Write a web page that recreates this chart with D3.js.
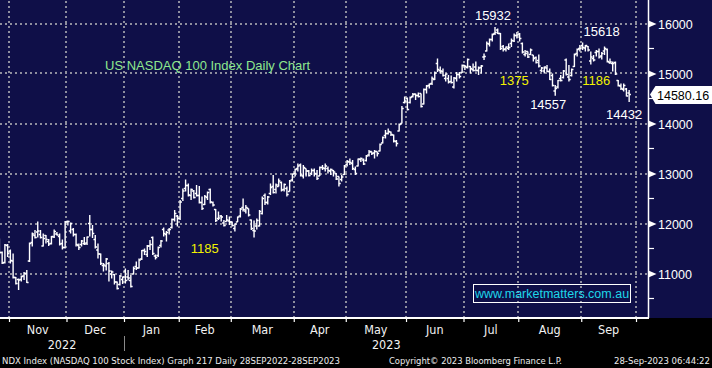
<!DOCTYPE html>
<html>
<head>
<meta charset="utf-8">
<script src="https://cdn.jsdelivr.net/npm/d3@7"></script>
<style>
html,body{margin:0;padding:0;background:#000;overflow:hidden}
svg{display:block}
</style>
</head>
<body>
<svg id="chart" width="712" height="368"></svg>
<script>
// ---------- DATA ----------
const firstDay = "2022-10-26";
const lastCalendarDay = "2023-10-02";
const holidays = ["2022-11-24","2022-12-26","2023-01-02","2023-01-16","2023-02-20",
  "2023-04-07","2023-05-29","2023-06-19","2023-07-04","2023-09-04"];
const monthLabels = ["Nov","Dec","Jan","Feb","Mar","Apr","May","Jun","Jul","Aug","Sep"];
const yearLabels = ["2022","2023"];
const yTicks = [11000,12000,13000,14000,15000,16000];
const yMinorTicks = [10500,11500,12500,13500,14500,15500];

const opens = [
 11560,11420,11220,11560,
 11450,11250,10920,10880,10880,10950,11000,11250,11620,11760,11830,11780,11550,11760,11640,11600,11730,11790,11740,11600,11520,
 12040,11850,11880,11780,11560,11580,11600,11610,12000,11880,11680,11470,11390,11160,11150,11200,10990,10980,10830,10780,10880,
 11050,10930,10860,10990,11140,11110,11290,11460,11380,11550,11720,11350,11360,11560,11880,11780,11870,11920,12080,12150,
 12100,12500,12700,12760,12560,12650,12600,12560,12420,12380,12520,12680,12420,12280,12100,12150,12010,12040,12050,
 12030,11900,12030,12150,12320,12250,12300,12070,11860,11950,11950,12200,12560,12420,12600,12740,12680,12740,12820,12680,12700,12640,12870,
 13000,13100,13170,12950,13100,13050,13000,13060,12990,12950,13120,13100,13100,13050,13060,13000,12940,12880,12980,
 13180,13230,13200,13080,13150,13280,13270,13260,13370,13440,13410,13440,13450,13610,13760,13800,13830,13770,13640,13850,14000,14420,
 14500,14420,14540,14590,14560,14600,14390,14680,14760,14800,14880,15200,15060,15040,14900,14900,14840,14730,14900,14980,15020,
 15160,15120,15140,15080,15130,15060,15120,15330,15450,15590,15680,15800,15870,15800,15540,15490,15500,15600,15650,15760,
 15790,15600,15380,15440,15380,15370,15320,15260,15060,15050,15110,15040,14960,14650,14730,14900,14920,15270,14930,14960,15140,15400,15500,
 15560,15510,15540,15250,15300,15420,15440,15350,15450,15480,15220,15200,15220,14860,14750,14680,14690,14610
];
const highs = [
 11700,11440,11590,11590,
 11480,11400,10930,10900,10960,11030,11070,11620,11820,11870,12040,11870,11800,11770,11690,11750,11880,11830,11800,11680,12050,
 12060,12020,11910,11800,11600,11670,11730,11740,12170,11970,11770,11600,11400,11210,11310,11230,11060,10990,10840,10970,10940,
 11100,11070,10970,11140,11240,11300,11470,11500,11570,11670,11740,11380,11540,11670,11920,11850,11910,12100,12270,12170,
 12470,12700,12880,12800,12700,12670,12770,12750,12540,12570,12640,12700,12440,12290,12240,12170,12070,12170,12140,
 12040,12000,12140,12310,12500,12370,12300,12080,12060,12100,12270,12540,12600,12550,12800,12970,12800,12900,12840,12800,12740,12870,13000,
 13100,13200,13200,13170,13100,13070,13100,13100,13070,13140,13170,13200,13140,13100,13070,13010,12940,12970,13170,
 13270,13300,13270,13140,13300,13320,13300,13370,13470,13440,13470,13440,13600,13740,13870,13900,13840,13780,13670,14000,14350,14540,
 14520,14540,14610,14600,14620,14600,14700,14770,14800,14940,15040,15300,15140,15100,15000,14970,14960,14930,15030,15030,15180,
 15170,15300,15150,15200,15240,15140,15170,15400,15640,15700,15800,15932,15900,15810,15570,15540,15600,15700,15800,15830,
 15810,15620,15470,15440,15500,15370,15340,15380,15130,15140,15170,15100,15000,14770,14870,14970,15070,15300,15170,15100,15400,15500,15570,
 15618,15570,15550,15440,15370,15470,15500,15430,15540,15500,15300,15240,15240,14870,14800,14800,14710,14670
];
const lows = [
 11380,11190,11200,11330,
 11200,10900,10780,10670,10840,10870,10810,11230,11540,11700,11720,11700,11540,11600,11550,11580,11710,11760,11560,11480,11500,
 11960,11800,11740,11540,11470,11540,11570,11570,11740,11710,11500,11300,11170,11040,11060,10840,10900,10780,10680,10760,10790,
 10800,10860,10720,10980,11070,11100,11270,11370,11330,11470,11370,11280,11330,11520,11740,11640,11780,11900,12040,11940,
 12070,12450,12640,12540,12470,12500,12540,12400,12270,12370,12470,12400,12340,12030,12070,12040,11940,12040,11970,
 11940,11840,12030,12120,12240,12200,12140,11870,11720,11880,11940,12180,12370,12380,12570,12600,12600,12740,12640,12640,12540,12640,12840,
 12940,13040,12940,12900,12940,12940,12970,12940,12870,12950,13070,13040,13000,12970,12940,12870,12740,12840,12970,
 13140,13170,13070,12970,13140,13230,13170,13240,13340,13370,13300,13340,13440,13600,13700,13780,13750,13620,13540,13840,14000,14400,
 14260,14400,14520,14470,14520,14320,14380,14600,14700,14770,14870,15030,15000,14940,14840,14800,14800,14700,14840,14900,15010,
 15070,15100,15000,15040,15040,14970,15000,15270,15440,15540,15640,15770,15790,15470,15440,15440,15470,15530,15630,15700,
 15640,15400,15340,15310,15370,15240,15200,15120,15030,15000,15030,14870,14740,14557,14700,14840,14900,14960,14840,14940,15130,15340,15440,
 15470,15440,15440,15180,15240,15340,15300,15280,15370,15220,15190,15040,14970,14740,14670,14640,14540,14432
];
const closes = [
 11420,11210,11570,11400,
 11260,10920,10800,10870,10940,11000,10820,11600,11790,11720,11850,11720,11700,11680,11590,11740,11840,11770,11590,11520,12030,
 12040,12000,11780,11580,11520,11650,11590,11730,11880,11800,11530,11390,11200,11170,11290,11050,11030,10830,10700,10950,10930,
 10860,10910,10740,11100,11110,11270,11460,11440,11550,11580,11400,11320,11520,11650,11800,11820,11880,12080,12200,12100,
 12430,12650,12760,12570,12680,12520,12560,12420,12300,12540,12620,12430,12370,12060,12110,12130,11960,12070,12030,
 11960,11990,12130,12290,12280,12320,12170,11900,11850,12060,12240,12500,12420,12530,12720,12620,12770,12850,12670,12780,12580,12850,12990,
 13080,13150,12970,13120,13050,12960,13060,13000,12900,13120,13110,13150,13060,13080,13030,12890,12800,12930,13150,
 13240,13220,13100,13000,13290,13300,13190,13350,13430,13400,13440,13400,13580,13720,13800,13840,13780,13650,13600,13980,14300,14450,
 14280,14520,14580,14560,14540,14340,14680,14750,14790,14900,15010,15080,15050,14960,14990,14830,14820,14910,14980,14940,15160,
 15140,15280,15100,15060,15060,15110,15150,15340,15600,15680,15780,15820,15800,15500,15480,15530,15520,15660,15760,15770,
 15700,15430,15400,15330,15470,15300,15220,15150,15110,15130,15040,14880,14760,14700,14860,14860,15050,14980,14880,15080,15380,15480,15500,
 15520,15560,15470,15330,15270,15440,15330,15400,15500,15240,15230,15200,14990,14760,14700,14760,14550,14580.16
];

// price annotations: text, bar index, price, offsets
const priceNotes = [
  {text:"15932", i:181, v:15932, dx:-2, dy:-7, anchor:"middle", color:"#ffffff"},
  {text:"15618", i:213, v:15618, dx:1,  dy:-6.5, anchor:"start", color:"#ffffff"},
  {text:"14557", i:203, v:14557, dx:-7, dy:13.5, anchor:"middle", color:"#ffffff"},
  {text:"14432", i:230, v:14432, dx:-5, dy:17, anchor:"middle", color:"#ffffff"},
  {text:"1375",  i:188, v:14770, dx:0, dy:0, anchor:"middle", color:"#f2f200"},
  {text:"1186",  i:218, v:14770, dx:0, dy:0, anchor:"middle", color:"#f2f200"},
  {text:"1185",  i:75,  v:11416, dx:0, dy:0, anchor:"middle", color:"#f2f200"}
];
const titleText = "US NASDAQ 100 Index Daily Chart";
const watermark = "www.marketmatters.com.au";
const footerLeft = "NDX Index (NASDAQ 100 Stock Index) Graph 217  Daily 28SEP2022-28SEP2023";
const footerMid = "Copyright\u00A9 2023 Bloomberg Finance L.P.";
const footerRight = "28-Sep-2023 06:44:22";

// ---------- CALENDAR ----------
const parse = d3.utcParse("%Y-%m-%d"), fmt = d3.utcFormat("%Y-%m-%d");
const holidaySet = new Set(holidays);
const days = d3.utcDays(parse(firstDay), d3.utcDay.offset(parse(lastCalendarDay), 1))
  .filter(d => d.getUTCDay() !== 0 && d.getUTCDay() !== 6 && !holidaySet.has(fmt(d)));
const monthStarts = [];
days.forEach((d, i) => { if (i > 0 && d.getUTCMonth() !== days[i-1].getUTCMonth()) monthStarts.push(i); });

// ---------- LAYOUT ----------
const W = 712, H = 368;
const plotRight = 648.5, plotBottom = 318;
const navy = "#0f0f48";

const svg = d3.select("#chart");
const x = d3.scaleLinear().domain([monthStarts[0], monthStarts[monthStarts.length-1]]).range([9, 636]);
const y = d3.scaleLinear().domain([11000, 16000]).range([273.5, 23.5]);
const xc = i => x(i + 0.5);

svg.append("rect").attr("width", W).attr("height", H).attr("fill", "#000");
svg.append("rect").attr("width", W).attr("height", plotBottom).attr("fill", navy);

svg.append("defs").append("clipPath").attr("id", "plotclip")
  .append("rect").attr("x", 0).attr("y", 0).attr("width", plotRight).attr("height", plotBottom);

// grid
const grid = svg.append("g").attr("stroke", "#8e8e9e").attr("stroke-width", 2)
  .attr("stroke-dasharray", "2,3").attr("shape-rendering", "crispEdges");
grid.selectAll("line.h").data(yTicks).join("line").attr("class", "h")
  .attr("x1", 0).attr("x2", plotRight - 1).attr("y1", d => Math.round(y(d))).attr("y2", d => Math.round(y(d)));
grid.selectAll("line.v").data(monthStarts).join("line").attr("class", "v")
  .attr("x1", d => Math.round(x(d))).attr("x2", d => Math.round(x(d))).attr("y1", 1).attr("y2", plotBottom);

// OHLC bars
const bars = svg.append("g").attr("clip-path", "url(#plotclip)")
  .attr("stroke", "#ffffff").attr("stroke-width", 1.4).attr("fill", "none");
const tick = 1.8;
const idx = d3.range(closes.length);
bars.selectAll("path").data(idx).join("path")
  .attr("d", i => {
    const cx = xc(i);
    return `M${cx},${y(highs[i])}V${y(lows[i])}` +
           `M${cx - tick},${y(opens[i])}H${cx}` +
           `M${cx},${y(closes[i])}H${cx + tick}`;
  });

// bottom axis
const xAxis = d3.axisBottom(x).tickValues(monthStarts).tickSize(4).tickFormat("");
const gx = svg.append("g").attr("transform", `translate(0,${plotBottom})`).call(xAxis);
gx.select(".domain").remove();
gx.selectAll(".tick line").attr("stroke", "#ffffff").attr("stroke-width", 1.2);
svg.append("line").attr("x1", 0).attr("x2", plotRight + 0.5).attr("y1", plotBottom).attr("y2", plotBottom)
  .attr("stroke", "#ffffff").attr("stroke-width", 2);

const condensed = "'DejaVu Sans Condensed','DejaVu Sans',sans-serif";
svg.append("g").selectAll("text").data(monthLabels).join("text")
  .attr("x", (d, k) => (x(monthStarts[k]) + x(monthStarts[k+1])) / 2)
  .attr("y", 334).attr("text-anchor", "middle")
  .style("font-family", condensed).style("font-stretch", "condensed").style("font-size", "12.5px")
  .attr("fill", "#f2f2f2").text(d => d);

const janIdx = monthStarts[2];
const yearPos = [(0 + x(janIdx)) / 2, (x(janIdx) + plotRight) / 2];
svg.append("g").selectAll("text").data(yearLabels).join("text")
  .attr("x", (d, k) => yearPos[k]).attr("y", 349).attr("text-anchor", "middle")
  .style("font-family", condensed).style("font-stretch", "condensed").style("font-size", "12.5px")
  .attr("fill", "#f2f2f2").text(d => d);
svg.append("line").attr("x1", Math.round(x(janIdx)) + 0.5).attr("x2", Math.round(x(janIdx)) + 0.5)
  .attr("y1", 336).attr("y2", 351).attr("stroke", "#8a8a8a").attr("stroke-width", 1);

// right axis
svg.append("line").attr("x1", plotRight).attr("x2", plotRight).attr("y1", 0).attr("y2", plotBottom)
  .attr("stroke", "#ffffff").attr("stroke-width", 1.5);
const yAxis = d3.axisRight(y).tickValues(yTicks).tickSize(0).tickPadding(10).tickFormat(d3.format("d"));
const gy = svg.append("g").attr("transform", `translate(${plotRight},0)`).call(yAxis);
gy.select(".domain").remove();
gy.selectAll(".tick text").attr("fill", "#ffffff").attr("x", 9.5).attr("dy", "0.36em")
  .style("font-family", "'Liberation Sans',Arial,sans-serif").style("font-size", "12.5px");
gy.selectAll(".tick").append("path").attr("d", "M0.5,-3.2L8,0L0.5,3.2Z").attr("fill", "#ffffff");
svg.append("g").selectAll("line").data(yMinorTicks).join("line")
  .attr("x1", plotRight).attr("x2", plotRight + 5.5).attr("y1", d => y(d)).attr("y2", d => y(d))
  .attr("stroke", "#ffffff").attr("stroke-width", 1.2);

// last price tag
const lastV = closes[closes.length - 1];
const ly = y(lastV);
svg.append("path").attr("d", `M${plotRight + 1.5},${ly}L${plotRight + 7},${ly - 8.5}H${W}V${ly + 9.5}H${plotRight + 7}Z`)
  .attr("fill", "#ffffff");
svg.append("text").attr("x", plotRight + 8.5).attr("y", ly + 5.5)
  .style("font-family", "'Liberation Sans',Arial,sans-serif").style("font-size", "12.5px")
  .attr("fill", "#000000").text(d3.format(".2f")(lastV));

// title
svg.append("text").attr("x", 105).attr("y", 70)
  .style("font-family", "'Liberation Sans',Arial,sans-serif").style("font-size", "13px")
  .attr("fill", "#8ee88e").text(titleText);

// annotations
svg.append("g").selectAll("text").data(priceNotes).join("text")
  .attr("x", d => xc(d.i) + d.dx).attr("y", d => y(d.v) + d.dy)
  .attr("text-anchor", d => d.anchor).attr("fill", d => d.color)
  .style("font-family", "'Liberation Sans',Arial,sans-serif").style("font-size", "13px")
  .text(d => d.text);

// watermark
svg.append("rect").attr("x", 473.5).attr("y", 284.5).attr("width", 157).attr("height", 18)
  .attr("fill", "none").attr("stroke", "#ffffff").attr("stroke-width", 1);
svg.append("text").attr("x", 552).attr("y", 298).attr("text-anchor", "middle")
  .style("font-family", "'Liberation Sans',Arial,sans-serif").style("font-size", "12.5px")
  .attr("fill", "#1ed6e8").text(watermark);

// footer
const footer = svg.append("g").attr("fill", "#ececec")
  .style("font-family", condensed).style("font-stretch", "condensed").style("font-size", "9.5px");
footer.append("text").attr("x", 2).attr("y", 364).attr("textLength", 338).attr("lengthAdjust", "spacingAndGlyphs").text(footerLeft);
footer.append("text").attr("x", 389).attr("y", 364).attr("textLength", 173).attr("lengthAdjust", "spacingAndGlyphs").text(footerMid);
footer.append("text").attr("x", 614).attr("y", 364).attr("textLength", 96).attr("lengthAdjust", "spacingAndGlyphs").text(footerRight);
</script>
</body>
</html>
